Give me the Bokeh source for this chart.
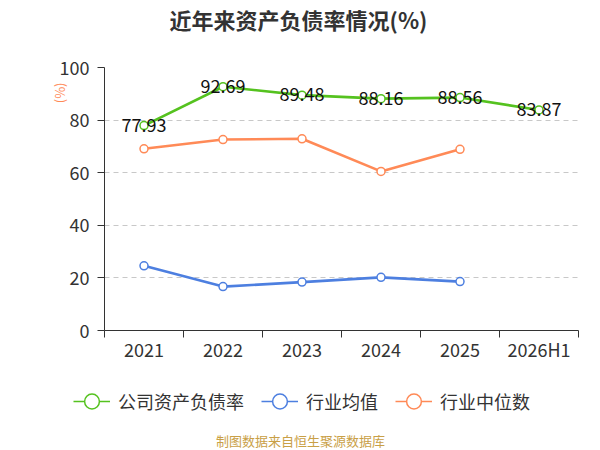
import numpy as np
from bokeh.plotting import figure
from bokeh.layouts import column
from bokeh.models import (Range1d, FixedTicker, Legend, LegendItem, ColumnDataSource, Title, Label)
from bokeh.core.properties import value
from bokeh.embed import file_html
from bokeh.resources import INLINE

categories = ["2021", "2022", "2023", "2024", "2025", "2026H1"]
company = [77.93, 92.69, 89.48, 88.16, 88.56, 83.87]
ind_mean = [24.6, 16.7, 18.4, 20.2, 18.6]
ind_median = [69.1, 72.6, 72.9, 60.5, 68.9]
y_ticks = [0, 20, 40, 60, 80, 100]
series_names = ["公司资产负债率", "行业均值", "行业中位数"]

FONT = "Noto Sans CJK SC"
GREEN = "#55c21f"
BLUE = "#4d7fe0"
ORANGE = "#ff8a57"
COLORS = [GREEN, BLUE, ORANGE]

xc = np.arange(len(categories)) + 0.5


def strip(h):
    f = figure(width=600, height=h, output_backend="svg", toolbar_location=None,
               x_range=Range1d(0, 600), y_range=Range1d(0, h),
               x_axis_type=None, y_axis_type=None, min_border=0)
    f.outline_line_color = None
    f.frame_align = False
    return f


# title strip
p0 = strip(40)
p0.add_layout(Label(x=298, y=22, text="近年来资产负债率情况(%)", text_align="center",
                    text_baseline="middle", text_font=FONT, text_font_size="22px",
                    text_font_style="bold", text_color="#333333"))

# main chart
p = figure(width=600, height=325, output_backend="svg", toolbar_location=None,
           x_range=Range1d(0, len(categories)), y_range=Range1d(0, 100),
           min_border_left=104, min_border_right=22, min_border_top=27, min_border_bottom=35)
p.outline_line_color = None
p.frame_align = False

p.xaxis.ticker = FixedTicker(ticks=list(xc), minor_ticks=list(range(len(categories) + 1)))
p.xaxis.major_label_overrides = {float(x): c for x, c in zip(xc, categories)}
p.xaxis.major_tick_out = 0
p.xaxis.major_tick_in = 0
p.xaxis.minor_tick_out = 7
p.xaxis.minor_tick_in = 0
p.xaxis.minor_tick_line_color = "#333333"
p.xaxis.axis_line_color = "#333333"
p.xaxis.major_label_text_font = FONT
p.xaxis.major_label_text_font_size = "18px"
p.xaxis.major_label_text_color = "#333333"
p.xaxis.major_label_standoff = -2
p.xgrid.grid_line_color = None

p.yaxis.ticker = FixedTicker(ticks=y_ticks)
p.yaxis.major_tick_out = 7
p.yaxis.major_tick_in = 0
p.yaxis.minor_tick_line_color = None
p.yaxis.axis_line_color = "#333333"
p.yaxis.major_tick_line_color = "#333333"
p.yaxis.major_label_text_font = FONT
p.yaxis.major_label_text_font_size = "18px"
p.yaxis.major_label_text_color = "#333333"
p.yaxis.major_label_standoff = 8
p.ygrid.grid_line_color = "#c8c8c8"
p.ygrid.grid_line_dash = "5 4"
p.ygrid.grid_line_width = 1

unit = Title(text="(%)", align="right", offset=15, standoff=-25,
             text_font=FONT, text_font_size="13px", text_font_style="normal", text_color=ORANGE)
p.add_layout(unit, "left")

n_mean = len(ind_mean)
n_med = len(ind_median)
p.line(xc, company, line_color=GREEN, line_width=2.6)
p.scatter(xc, company, size=8, fill_color="white", line_color=GREEN, line_width=1.5)
p.line(xc[:n_mean], ind_mean, line_color=BLUE, line_width=2.6)
p.scatter(xc[:n_mean], ind_mean, size=8, fill_color="white", line_color=BLUE, line_width=1.5)
p.line(xc[:n_med], ind_median, line_color=ORANGE, line_width=2.6)
p.scatter(xc[:n_med], ind_median, size=8, fill_color="white", line_color=ORANGE, line_width=1.5)

lab_src = ColumnDataSource(dict(x=xc, y=company, t=[f"{v:.2f}" for v in company]))
p.text(x="x", y="y", text="t", source=lab_src, text_align="center", text_baseline="middle",
       y_offset=-1, text_font=value(FONT), text_font_size="18px", text_color="#111111")

# legend + footer strip
p2 = strip(85)
items = []
for name, col in zip(series_names, COLORS):
    rl = p2.line([np.nan], [np.nan], line_color=col, line_width=1.5)
    rs = p2.scatter([np.nan], [np.nan], size=16, fill_color="white", line_color=col, line_width=1.5)
    items.append(LegendItem(label=name, renderers=[rl, rs]))
legend = Legend(items=items, location=(73, 29), orientation="horizontal",
                glyph_width=37, glyph_height=40, label_height=40, label_standoff=8, spacing=17,
                padding=0, margin=0, border_line_color=None, background_fill_alpha=0,
                label_text_font=FONT, label_text_font_size="18px", label_text_color="#333333",
                label_text_baseline="middle")
p2.add_layout(legend, "center")
p2.add_layout(Label(x=300, y=10, text="制图数据来自恒生聚源数据库", text_align="center",
                    text_baseline="middle", text_font=FONT, text_font_size="13px",
                    text_color="#c9a046"))

layout = column(p0, p, p2, spacing=0)
open("out.html", "w").write(file_html(layout, INLINE))
